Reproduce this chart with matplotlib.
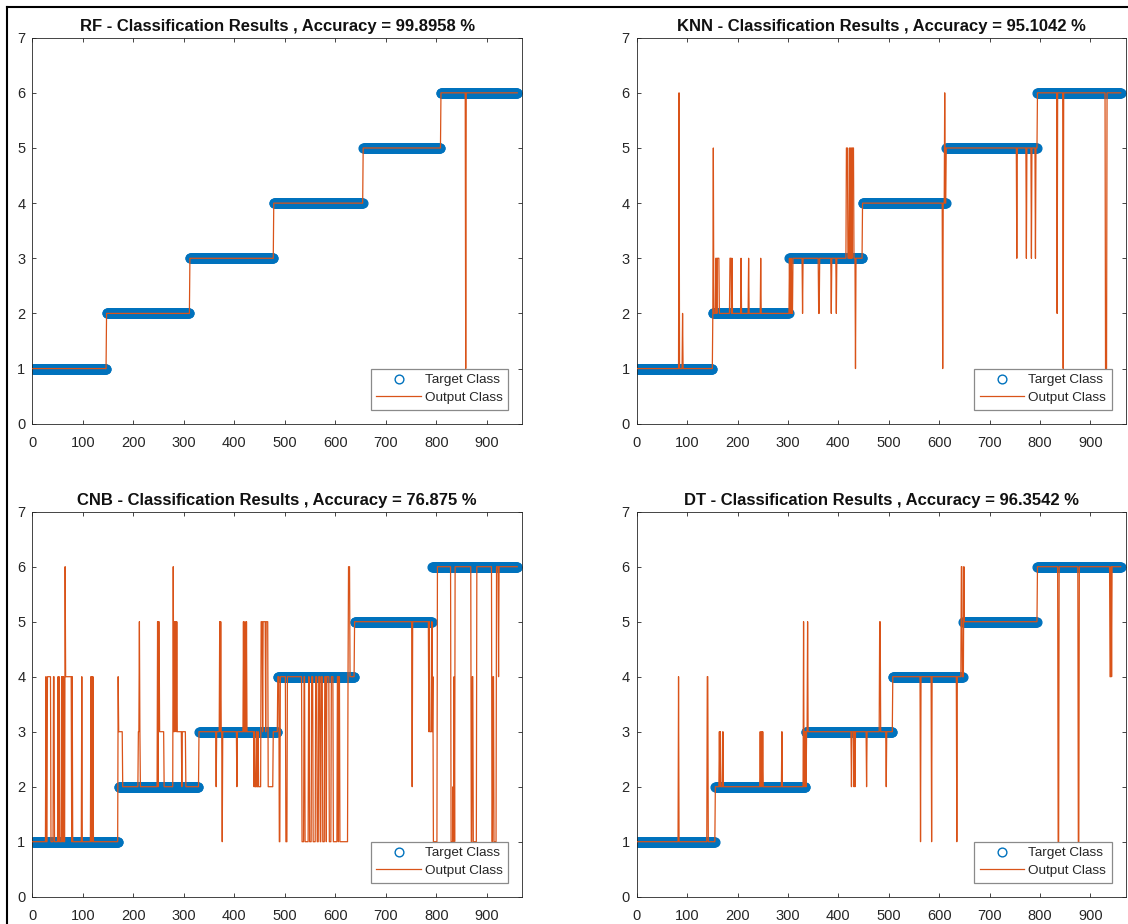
import numpy as np
import matplotlib
matplotlib.use("Agg")
import matplotlib.pyplot as plt
from matplotlib.lines import Line2D

plt.rcParams["font.family"] = ["Liberation Sans", "DejaVu Sans"]

n_muestras = 960
clases = [1, 2, 3, 4, 5, 6]

modelos = ["RF", "KNN", "CNB", "DT"]
accuracy = ["99.8958", "95.1042", "76.875", "96.3542"]

# muestras por clase en cada conjunto de prueba
cuentas_rf = [146, 165, 166, 177, 154, 152]
cuentas_knn = [150, 152, 145, 166, 181, 166]
cuentas_cnb = [170, 159, 156, 152, 154, 169]
cuentas_dt = [155, 179, 173, 140, 147, 166]

# errores: (desde, hasta, clase predicha), indices 1..960 inclusivos
errores_rf = [(858, 858, 1)]

errores_knn = [(84, 84, 6), (91, 91, 2), (152, 152, 5), (157, 158, 3), (160, 163, 3),
               (185, 187, 3), (189, 189, 3), (207, 207, 3), (222, 222, 3), (246, 246, 3),
               (304, 304, 2), (306, 306, 2), (308, 309, 2), (329, 329, 2), (361, 362, 2),
               (386, 386, 2), (396, 396, 2), (416, 418, 5), (422, 422, 5), (424, 424, 5),
               (426, 426, 5), (428, 430, 5), (434, 434, 1), (607, 607, 1), (611, 611, 6),
               (754, 754, 3), (773, 773, 3), (783, 783, 3), (791, 791, 3), (834, 834, 2),
               (846, 846, 1), (930, 932, 1)]

errores_cnb = [(27, 27, 4), (30, 36, 4), (42, 43, 4), (51, 51, 4), (53, 53, 4), (58, 58, 4),
               (60, 60, 4), (62, 62, 4), (65, 65, 6), (66, 77, 4), (79, 79, 4), (98, 98, 4),
               (116, 116, 4), (118, 118, 4), (120, 120, 4), (170, 170, 4),
               (171, 178, 3), (210, 211, 3), (212, 212, 5), (213, 213, 3), (248, 248, 5),
               (250, 251, 5), (252, 260, 3), (279, 279, 6), (280, 280, 3), (281, 281, 5),
               (282, 282, 3), (283, 284, 5), (285, 285, 3), (286, 286, 5), (287, 295, 3),
               (297, 303, 3),
               (364, 364, 2), (371, 371, 5), (373, 373, 5), (376, 376, 1), (405, 405, 2),
               (418, 418, 5), (421, 421, 5), (424, 424, 5), (439, 439, 2), (441, 443, 2),
               (445, 446, 2), (448, 452, 2), (453, 455, 5), (457, 461, 5), (463, 466, 5),
               (467, 476, 2),
               (489, 490, 1), (502, 504, 1), (534, 537, 1), (540, 546, 1), (549, 552, 1),
               (556, 560, 1), (564, 566, 1), (570, 571, 1), (575, 578, 1), (582, 582, 1),
               (588, 591, 1), (596, 603, 1), (606, 606, 1), (609, 624, 1), (626, 628, 6),
               (752, 752, 2), (785, 785, 3), (787, 790, 3),
               (792, 792, 3), (793, 793, 4), (794, 801, 1), (829, 832, 1), (833, 833, 2),
               (834, 834, 1), (835, 835, 4), (836, 836, 1), (869, 870, 1), (871, 872, 4),
               (873, 879, 1), (910, 911, 1), (912, 913, 4), (914, 918, 1), (923, 923, 4)]

errores_dt = [(83, 83, 4), (140, 141, 4), (164, 164, 3), (166, 166, 3), (171, 171, 3),
              (245, 245, 3), (248, 248, 3), (250, 250, 3), (288, 288, 3), (331, 331, 5),
              (333, 333, 3), (336, 336, 2), (339, 339, 5), (426, 426, 2), (431, 431, 2),
              (433, 433, 2), (456, 456, 2), (482, 483, 5), (495, 495, 2), (563, 563, 1),
              (585, 585, 1), (635, 635, 1), (644, 645, 6), (648, 648, 4), (649, 649, 6),
              (836, 837, 1), (876, 877, 1), (939, 940, 4), (942, 942, 4)]

cuentas = [cuentas_rf, cuentas_knn, cuentas_cnb, cuentas_dt]
errores = [errores_rf, errores_knn, errores_cnb, errores_dt]

azul = "#0072BD"
naranja = "#D95319"
gris = "#262626"

W, H = 1128, 924
posiciones = [
    [32.3 / W, (H - 423.7) / H, 490 / W, 386 / H],
    [636.7 / W, (H - 423.7) / H, 489 / W, 386 / H],
    [32.3 / W, (H - 896.7) / H, 490 / W, 385 / H],
    [636.7 / W, (H - 896.7) / H, 489 / W, 385 / H],
]

fig = plt.figure(figsize=(W / 100, H / 100), dpi=100)
fig.patch.set_facecolor("white")

x = np.arange(1, n_muestras + 1)

for k in range(4):
    target = np.repeat(clases, cuentas[k])
    output = target.copy()
    for a, b, c in errores[k]:
        output[a - 1:b] = c

    ax = fig.add_axes(posiciones[k])
    ax.plot(x, target, "o", color=azul, mfc="none", ms=6.3, mew=1.0, label="Target Class", zorder=2)
    ax.plot(x, output, "-", color=naranja, lw=0.9, label="Output Class", zorder=3)

    ax.set_xlim(0, 970)
    ax.set_ylim(0, 7)
    ax.set_xticks(range(0, 901, 100))
    ax.set_yticks(range(8))
    ax.tick_params(direction="in", top=True, right=True, length=3.2, width=0.6,
                   colors=gris, labelsize=10.5)
    ax.tick_params(axis="x", pad=9)
    ax.tick_params(axis="y", pad=5)
    for sp in ax.spines.values():
        sp.set_color(gris)
        sp.set_linewidth(0.6)

    ax.set_title(modelos[k] + " - Classification Results , Accuracy = " + accuracy[k] + " %",
                 fontsize=12, fontweight="bold", color="#111111", pad=5)

    leg = ax.legend(loc="lower right", fontsize=9.7, fancybox=False, framealpha=1,
                    edgecolor="#8a8a8a", handlelength=3.3, handletextpad=0.3,
                    borderpad=0.4, labelspacing=0.4, borderaxespad=1.05)
    leg.get_frame().set_linewidth(0.9)
    for t in leg.get_texts():
        t.set_color(gris)

# borde negro de la captura
fig.add_artist(Line2D([7.3 / W, 7.3 / W], [0, 1 - 7.3 / H], color="black", lw=1.5))
fig.add_artist(Line2D([7.3 / W, 1], [1 - 7.3 / H, 1 - 7.3 / H], color="black", lw=1.5))

fig.savefig("out.png", dpi=100)
